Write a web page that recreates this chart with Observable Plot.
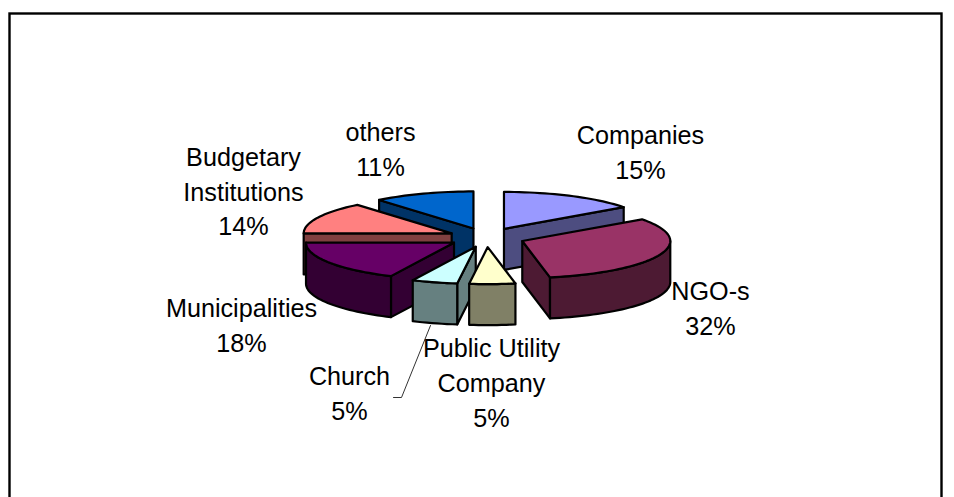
<!DOCTYPE html>
<html><head><meta charset="utf-8">
<script src="https://cdn.jsdelivr.net/npm/d3@7"></script>
<script src="https://cdn.jsdelivr.net/npm/@observablehq/plot@0.6"></script>
<style>html,body{margin:0;padding:0;background:#fff}svg{display:block}</style>
</head><body><div id="chart"></div>
<script>
const categories = ["Companies","NGO-s","Public Utility Company","Church","Municipalities","Budgetary Institutions","others"];
const shares = [15,32,5,5,18,14,11];
const topColors = ["#9999FF","#993366","#FFFFCC","#CCFFFF","#660066","#FF8080","#0066CC"];
const sideColors = ["#4D4D80","#4D1A33","#808066","#668080","#330033","#804040","#003366"];
const labelLines = [["Companies"],["NGO-s"],["Public Utility","Company"],["Church"],["Municipalities"],["Budgetary","Institutions"],["others"]];

const W = 954, H = 497;
const cx = 486, cy = 237, rx = 148, ry = 37, depthPx = 41, explode = 0.26;
const depth = depthPx / ry;
const rad = a => a * Math.PI / 180;
const total = d3.sum(shares);
let acc = 0;
const slices = categories.map((name, i) => {
  const a0 = acc / total * 360; acc += shares[i]; const a1 = acc / total * 360;
  const mid = (a0 + a1) / 2;
  return {i, name, a0, a1, mid, ox: explode * Math.sin(rad(mid)), oy: explode * Math.cos(rad(mid))};
});
const rim = (s, a, dz = 0) => ({x: s.ox + Math.sin(rad(a)), y: s.oy + Math.cos(rad(a)) - dz});
const apex = (s, dz = 0) => ({x: s.ox, y: s.oy - dz});
function arc(s, a0, a1, dz = 0) {
  const n = Math.max(2, Math.ceil(Math.abs(a1 - a0) / 2));
  return d3.range(n + 1).map(k => rim(s, a0 + (a1 - a0) * k / n, dz));
}
let pid = 0;
const rows = [];
function push(pts, fill) { pid++; pts.forEach(p => rows.push({...p, id: pid, fill})); }
// painter's order: back slices first
[6, 0, 5, 1, 4, 3, 2].forEach(i => {
  const s = slices[i];
  const side = sideColors[i];
  if (Math.sin(rad(s.a1)) > 0.01) push([apex(s), rim(s, s.a1), rim(s, s.a1, depth), apex(s, depth)], side);
  if (Math.sin(rad(s.a0)) < -0.01) push([apex(s), rim(s, s.a0), rim(s, s.a0, depth), apex(s, depth)], side);
  const f0 = Math.max(s.a0, 90), f1 = Math.min(s.a1, 270);
  if (f1 > f0) push([...arc(s, f0, f1), ...arc(s, f1, f0, depth)], side);
  push([apex(s), ...arc(s, s.a0, s.a1)], topColors[i]);
});

const pctText = slices.map((s, i) => labelLines[i].concat(shares[i] + "%").join("\n"));
// text anchors: px positions turned into pie units
const labelPx = [[640,149.5],[710,306],[491,380.5],[349,391],[241,323],[243,189],[380,146.5]];
const labels = labelPx.map(([px, py], i) => ({x: (px - cx) / rx, y: (cy - py) / ry, text: pctText[i]}));
const leader = [[430,325],[401,397],[393,397]].map(([px, py]) => ({x: (px - cx) / rx, y: (cy - py) / ry}));

const plot = Plot.plot({
  width: W, height: H, margin: 0,
  style: {background: "#fff", fontFamily: "'Liberation Sans', Arial, sans-serif"},
  x: {domain: [-cx / rx, (W - cx) / rx], range: [0, W], axis: null},
  y: {domain: [(cy - H) / ry, cy / ry], range: [H, 0], axis: null},
  color: {type: "identity"},
  marks: [
    Plot.frame({stroke: "#000", strokeWidth: 2.4, insetLeft: 9, insetTop: 13, insetRight: 13, insetBottom: -5}),
    Plot.line(rows, {x: "x", y: "y", z: "id", fill: "fill", stroke: "#000", strokeWidth: 2.2, curve: "linear-closed", strokeLinejoin: "round"}),
    Plot.line(leader, {x: "x", y: "y", stroke: "#333", strokeWidth: 1}),
    Plot.text(labels, {x: "x", y: "y", text: "text", fontSize: 25.2, lineHeight: 1.38, fill: "#000", textAnchor: "middle", lineAnchor: "middle"})
  ]
});
document.getElementById("chart").append(plot);
</script></body></html>
